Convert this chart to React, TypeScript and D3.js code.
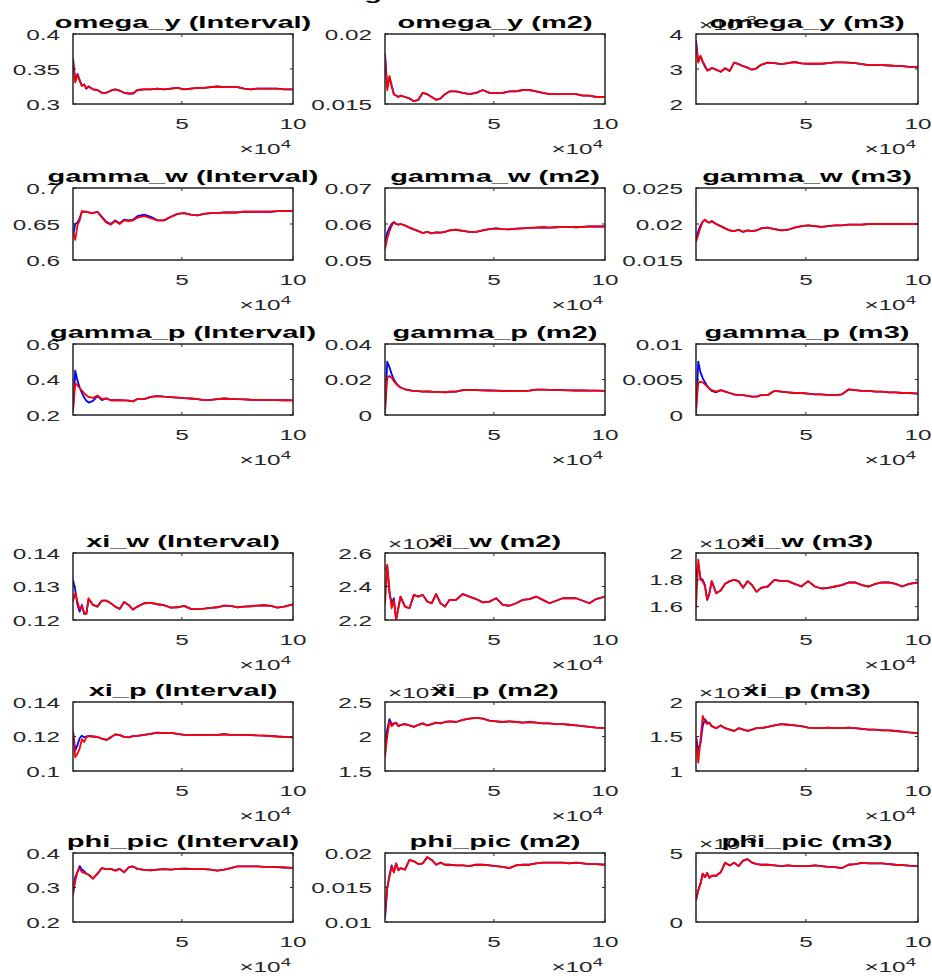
import React from 'react';
import * as d3 from 'd3';

// Iteration counts (thousands) at which each running estimate is sampled
const X_K = [1, 2, 3, 4, 5, 6, 7, 8, 10, 12, 14, 16, 18, 20, 22, 24, 26, 28, 30, 33, 36, 39, 42, 45, 48, 51, 54, 57, 60, 63, 66, 69, 72, 75, 78, 81, 84, 87, 90, 93, 96, 100];

// ---- omega_y ----
const omegaYIntervalRed = [0.362, 0.331, 0.342, 0.333, 0.326, 0.328, 0.322, 0.325, 0.321, 0.320, 0.316, 0.316, 0.319, 0.321, 0.319, 0.316, 0.315, 0.315, 0.320, 0.321, 0.321, 0.322, 0.321, 0.322, 0.323, 0.321, 0.322, 0.323, 0.323, 0.324, 0.325, 0.324, 0.324, 0.324, 0.322, 0.321, 0.322, 0.322, 0.322, 0.322, 0.321, 0.321];
const omegaYIntervalBlue = [0.366, 0.333, 0.343, 0.334];
const omegaYM2Red = [0.0183, 0.0160, 0.0170, 0.0163, 0.0157, 0.0156, 0.0155, 0.0156, 0.0155, 0.0154, 0.0152, 0.0153, 0.0158, 0.0157, 0.0155, 0.0153, 0.0154, 0.0157, 0.0159, 0.0159, 0.0158, 0.0157, 0.0158, 0.0160, 0.0158, 0.0158, 0.0158, 0.0159, 0.0159, 0.0160, 0.0160, 0.0159, 0.0158, 0.0157, 0.0157, 0.0157, 0.0157, 0.0157, 0.0156, 0.0156, 0.0155, 0.0155];
const omegaYM2Blue = [0.0186, 0.0162, 0.0169];
const omegaYM3Red = [3.75, 3.18, 3.38, 3.22, 3.10, 2.95, 2.98, 3.03, 2.98, 2.92, 3.02, 2.94, 3.18, 3.14, 3.08, 3.04, 2.98, 3.02, 3.12, 3.18, 3.17, 3.14, 3.17, 3.20, 3.16, 3.15, 3.15, 3.15, 3.17, 3.19, 3.19, 3.18, 3.17, 3.14, 3.11, 3.11, 3.11, 3.10, 3.09, 3.08, 3.06, 3.05];
const omegaYM3Blue = [3.82, 3.22, 3.36, 3.20, 3.06, 2.98];

// ---- gamma_w ----
const gammaWIntervalRed = [0.640, 0.628, 0.648, 0.655, 0.668, 0.667, 0.667, 0.666, 0.665, 0.667, 0.659, 0.652, 0.649, 0.654, 0.650, 0.655, 0.654, 0.655, 0.659, 0.661, 0.658, 0.655, 0.655, 0.660, 0.664, 0.665, 0.663, 0.662, 0.664, 0.665, 0.665, 0.666, 0.666, 0.666, 0.667, 0.667, 0.667, 0.667, 0.667, 0.668, 0.668, 0.668];
const gammaWIntervalBlue = [0.633, 0.650, 0.652, 0.658, 0.667, 0.667, 0.667, 0.666, 0.665, 0.667, 0.660, 0.653, 0.650, 0.655, 0.651, 0.656, 0.655, 0.656, 0.661, 0.663, 0.660];
const gammaWM2Red = [0.053, 0.056, 0.058, 0.0595, 0.0605, 0.0600, 0.0598, 0.0600, 0.0596, 0.0590, 0.0585, 0.0580, 0.0575, 0.0578, 0.0574, 0.0577, 0.0576, 0.0578, 0.0582, 0.0584, 0.0581, 0.0578, 0.0578, 0.0582, 0.0586, 0.0588, 0.0586, 0.0585, 0.0587, 0.0588, 0.0589, 0.0590, 0.0591, 0.0590, 0.0591, 0.0592, 0.0592, 0.0591, 0.0592, 0.0593, 0.0593, 0.0593];
const gammaWM2Blue = [0.055, 0.0575, 0.0590, 0.0600];
const gammaWM3Red = [0.0175, 0.0185, 0.0195, 0.0203, 0.0206, 0.0203, 0.0202, 0.0204, 0.0200, 0.0197, 0.0194, 0.0191, 0.0190, 0.0192, 0.0189, 0.0191, 0.0190, 0.0191, 0.0194, 0.0195, 0.0193, 0.0191, 0.0192, 0.0195, 0.0197, 0.0198, 0.0197, 0.0196, 0.0197, 0.0198, 0.0198, 0.0199, 0.0199, 0.0199, 0.0200, 0.0200, 0.0200, 0.0200, 0.0200, 0.0200, 0.0200, 0.0200];
const gammaWM3Blue = [0.0180, 0.0190, 0.0198];

// ---- gamma_p ----
const gammaPIntervalRed = [0.228, 0.378, 0.368, 0.352, 0.338, 0.323, 0.311, 0.302, 0.296, 0.310, 0.290, 0.294, 0.283, 0.284, 0.283, 0.282, 0.281, 0.277, 0.290, 0.290, 0.302, 0.306, 0.303, 0.301, 0.298, 0.295, 0.293, 0.290, 0.284, 0.285, 0.289, 0.293, 0.291, 0.289, 0.288, 0.286, 0.285, 0.285, 0.284, 0.284, 0.283, 0.282];
const gammaPIntervalBlue = [0.220, 0.450, 0.395, 0.355, 0.325, 0.300, 0.280, 0.270, 0.280, 0.306, 0.284, 0.294];
const gammaPM2Red = [0.002, 0.021, 0.022, 0.021, 0.019, 0.0175, 0.0165, 0.0155, 0.0145, 0.0140, 0.0135, 0.0135, 0.0132, 0.0133, 0.0131, 0.0130, 0.0130, 0.0128, 0.0131, 0.0132, 0.0140, 0.0141, 0.0140, 0.0139, 0.0138, 0.0137, 0.0136, 0.0135, 0.0134, 0.0135, 0.0137, 0.0143, 0.0143, 0.0142, 0.0141, 0.0140, 0.0139, 0.0138, 0.0138, 0.0137, 0.0137, 0.0136];
const gammaPM2Blue = [0.001, 0.030, 0.027, 0.023, 0.020, 0.018, 0.0165, 0.0155];
const gammaPM3Red = [0.0006, 0.0045, 0.0047, 0.0046, 0.0043, 0.0040, 0.0037, 0.0035, 0.0033, 0.0035, 0.0033, 0.0031, 0.0029, 0.0028, 0.0028, 0.0027, 0.0026, 0.0026, 0.0028, 0.0028, 0.0034, 0.0033, 0.0032, 0.0031, 0.0031, 0.0030, 0.0029, 0.0029, 0.0028, 0.0028, 0.0029, 0.0036, 0.0035, 0.0034, 0.0034, 0.0033, 0.0033, 0.0032, 0.0032, 0.0031, 0.0031, 0.0030];
const gammaPM3Blue = [0.0002, 0.0075, 0.0060, 0.0052, 0.0046, 0.0041, 0.0037, 0.0034, 0.0032];

// ---- xi_w ----
const xiWIntervalRed = [0.1255, 0.1280, 0.1255, 0.1232, 0.1242, 0.1222, 0.1218, 0.1265, 0.1245, 0.1240, 0.1258, 0.1258, 0.1250, 0.1240, 0.1233, 0.1254, 0.1245, 0.1231, 0.1240, 0.1250, 0.1251, 0.1247, 0.1244, 0.1237, 0.1238, 0.1242, 0.1233, 0.1233, 0.1234, 0.1236, 0.1238, 0.1243, 0.1242, 0.1238, 0.1240, 0.1241, 0.1243, 0.1244, 0.1242, 0.1237, 0.1240, 0.1247];
const xiWIntervalBlue = [0.1320, 0.1290, 0.1245, 0.1225, 0.1245, 0.1218, 0.1218, 0.1262];
const xiWM2Red = [2.29, 2.53, 2.38, 2.27, 2.32, 2.20, 2.27, 2.34, 2.28, 2.27, 2.35, 2.34, 2.35, 2.31, 2.30, 2.355, 2.30, 2.28, 2.32, 2.32, 2.355, 2.34, 2.325, 2.305, 2.31, 2.33, 2.29, 2.285, 2.30, 2.32, 2.325, 2.34, 2.32, 2.30, 2.315, 2.33, 2.33, 2.33, 2.315, 2.30, 2.325, 2.34];
const xiWM2Blue = [2.50, 2.52, 2.36, 2.30, 2.33];
const xiWM3Red = [1.59, 1.95, 1.80, 1.79, 1.75, 1.65, 1.70, 1.79, 1.70, 1.72, 1.77, 1.79, 1.80, 1.79, 1.74, 1.79, 1.76, 1.71, 1.74, 1.75, 1.80, 1.79, 1.79, 1.77, 1.75, 1.79, 1.75, 1.735, 1.74, 1.75, 1.76, 1.78, 1.78, 1.76, 1.75, 1.77, 1.78, 1.78, 1.77, 1.75, 1.77, 1.78];
const xiWM3Blue = [1.82, 1.92, 1.81, 1.80, 1.76];

// ---- xi_p ----
const xiPIntervalRed = [0.1230, 0.1080, 0.1100, 0.1130, 0.1185, 0.1168, 0.1195, 0.1203, 0.1200, 0.1197, 0.1188, 0.1180, 0.1195, 0.1212, 0.1208, 0.1198, 0.1195, 0.1202, 0.1204, 0.1210, 0.1215, 0.1222, 0.1220, 0.1221, 0.1215, 0.1210, 0.1209, 0.1209, 0.1209, 0.1210, 0.1210, 0.1213, 0.1210, 0.1210, 0.1209, 0.1208, 0.1206, 0.1205, 0.1203, 0.1200, 0.1198, 0.1195];
const xiPIntervalBlue = [0.1235, 0.1120, 0.1150, 0.1190, 0.1205, 0.1195, 0.1200];
const xiPM2Red = [1.70, 2.00, 2.22, 2.15, 2.18, 2.20, 2.15, 2.17, 2.18, 2.16, 2.14, 2.17, 2.19, 2.16, 2.18, 2.20, 2.19, 2.21, 2.22, 2.21, 2.24, 2.26, 2.27, 2.26, 2.23, 2.22, 2.21, 2.22, 2.21, 2.20, 2.21, 2.20, 2.19, 2.19, 2.18, 2.18, 2.17, 2.16, 2.15, 2.14, 2.13, 2.12];
const xiPM2Blue = [1.90, 2.10, 2.25, 2.18, 2.19];
const xiPM3Red = [1.50, 1.12, 1.45, 1.80, 1.72, 1.68, 1.70, 1.65, 1.62, 1.66, 1.62, 1.60, 1.58, 1.62, 1.60, 1.58, 1.60, 1.62, 1.62, 1.64, 1.66, 1.68, 1.67, 1.66, 1.65, 1.63, 1.62, 1.62, 1.63, 1.62, 1.62, 1.63, 1.62, 1.61, 1.60, 1.60, 1.59, 1.59, 1.58, 1.57, 1.56, 1.55];
const xiPM3Blue = [1.50, 1.30, 1.40, 1.65, 1.75, 1.70];

// ---- phi_pic ----
const phiPicIntervalRed = [0.282, 0.318, 0.345, 0.357, 0.345, 0.342, 0.340, 0.337, 0.326, 0.340, 0.356, 0.353, 0.354, 0.349, 0.354, 0.344, 0.358, 0.361, 0.354, 0.351, 0.350, 0.352, 0.353, 0.352, 0.354, 0.355, 0.354, 0.354, 0.353, 0.352, 0.349, 0.352, 0.356, 0.361, 0.361, 0.361, 0.361, 0.360, 0.360, 0.359, 0.358, 0.357];
const phiPicIntervalBlue = [0.278, 0.330, 0.345, 0.362, 0.352, 0.348];
const phiPicM2Red = [0.0110, 0.0150, 0.0165, 0.0180, 0.0172, 0.0185, 0.0175, 0.0178, 0.0176, 0.0190, 0.0188, 0.0184, 0.0185, 0.0194, 0.0190, 0.0183, 0.0186, 0.0183, 0.0183, 0.0182, 0.0182, 0.0181, 0.0183, 0.0183, 0.0182, 0.0181, 0.0180, 0.0178, 0.0182, 0.0183, 0.0183, 0.0185, 0.0186, 0.0186, 0.0186, 0.0186, 0.0185, 0.0186, 0.0185, 0.0184, 0.0184, 0.0183];
const phiPicM2Blue = [0.0105, 0.0148, 0.0168, 0.0182];
const phiPicM3Red = [1.55, 2.30, 2.75, 3.50, 3.25, 3.55, 3.20, 3.35, 3.35, 3.60, 4.30, 4.10, 4.30, 4.05, 4.45, 4.55, 4.30, 4.20, 4.15, 4.15, 4.10, 4.05, 4.10, 4.05, 4.05, 4.05, 4.10, 4.05, 4.00, 3.98, 3.90, 4.15, 4.20, 4.28, 4.25, 4.25, 4.25, 4.20, 4.15, 4.12, 4.08, 4.05];
const phiPicM3Blue = [1.60, 2.30, 2.80, 3.50];

// Axis settings: titles, y limits, tick values and tick labels
const TITLES = [
  ['omega_y (Interval)', 'omega_y (m2)', 'omega_y (m3)'],
  ['gamma_w (Interval)', 'gamma_w (m2)', 'gamma_w (m3)'],
  ['gamma_p (Interval)', 'gamma_p (m2)', 'gamma_p (m3)'],
  ['xi_w (Interval)', 'xi_w (m2)', 'xi_w (m3)'],
  ['xi_p (Interval)', 'xi_p (m2)', 'xi_p (m3)'],
  ['phi_pic (Interval)', 'phi_pic (m2)', 'phi_pic (m3)'],
];
const Y_LIMITS = [
  [[0.3, 0.4], [0.015, 0.02], [2, 4]],
  [[0.6, 0.7], [0.05, 0.07], [0.015, 0.025]],
  [[0.2, 0.6], [0, 0.04], [0, 0.01]],
  [[0.12, 0.14], [2.2, 2.6], [1.5, 2.0]],
  [[0.1, 0.14], [1.5, 2.5], [1, 2]],
  [[0.2, 0.4], [0.01, 0.02], [0, 5]],
];
const Y_TICKS = [
  [[0.3, 0.35, 0.4], [0.015, 0.02], [2, 3, 4]],
  [[0.6, 0.65, 0.7], [0.05, 0.06, 0.07], [0.015, 0.02, 0.025]],
  [[0.2, 0.4, 0.6], [0, 0.02, 0.04], [0, 0.005, 0.01]],
  [[0.12, 0.13, 0.14], [2.2, 2.4, 2.6], [1.6, 1.8, 2]],
  [[0.1, 0.12, 0.14], [1.5, 2, 2.5], [1, 1.5, 2]],
  [[0.2, 0.3, 0.4], [0.01, 0.015, 0.02], [0, 5]],
];
const Y_TICK_LABELS = [
  [['0.3', '0.35', '0.4'], ['0.015', '0.02'], ['2', '3', '4']],
  [['0.6', '0.65', '0.7'], ['0.05', '0.06', '0.07'], ['0.015', '0.02', '0.025']],
  [['0.2', '0.4', '0.6'], ['0', '0.02', '0.04'], ['0', '0.005', '0.01']],
  [['0.12', '0.13', '0.14'], ['2.2', '2.4', '2.6'], ['1.6', '1.8', '2']],
  [['0.1', '0.12', '0.14'], ['1.5', '2', '2.5'], ['1', '1.5', '2']],
  [['0.2', '0.3', '0.4'], ['0.01', '0.015', '0.02'], ['0', '5']],
];
const Y_EXPONENTS = [
  [null, null, '-3'],
  [null, null, null],
  [null, null, null],
  [null, '-3', '-4'],
  [null, '-3', '-4'],
  [null, null, '-3'],
];
const RED = [
  [omegaYIntervalRed, omegaYM2Red, omegaYM3Red],
  [gammaWIntervalRed, gammaWM2Red, gammaWM3Red],
  [gammaPIntervalRed, gammaPM2Red, gammaPM3Red],
  [xiWIntervalRed, xiWM2Red, xiWM3Red],
  [xiPIntervalRed, xiPM2Red, xiPM3Red],
  [phiPicIntervalRed, phiPicM2Red, phiPicM3Red],
];
// Blue chain: early samples listed; afterwards it coincides with the red chain
const BLUE_HEAD = [
  [omegaYIntervalBlue, omegaYM2Blue, omegaYM3Blue],
  [gammaWIntervalBlue, gammaWM2Blue, gammaWM3Blue],
  [gammaPIntervalBlue, gammaPM2Blue, gammaPM3Blue],
  [xiWIntervalBlue, xiWM2Blue, xiWM3Blue],
  [xiPIntervalBlue, xiPM2Blue, xiPM3Blue],
  [phiPicIntervalBlue, phiPicM2Blue, phiPicM3Blue],
];
const X_TICKS = [50000, 100000];
const X_TICK_LABELS = ['5', '10'];

// Layout
const W = 932;
const H = 979;
const COL_LEFT = [73, 385, 696];
const COL_WIDTH = [220, 220, 222];
const ROW_TOP = [34, 188, 344, 553, 702, 853];
const ROW_BOTTOM = [104, 260, 415, 620, 771, 922];
const FONT = "'Liberation Sans', Arial, Helvetica, sans-serif";
const AXIS_COLOR = '#262626';
const STRETCH_TICK = 1.62;
const STRETCH_TITLE = 1.76;

function Label(props: {
  x: number; y: number; sx: number; size: number; anchor?: string; weight?: string; fill?: string; children: React.ReactNode;
}) {
  const { x, y, sx, size, anchor = 'start', weight = 'normal', fill = AXIS_COLOR, children } = props;
  return (
    <text
      transform={`translate(${x},${y}) scale(${sx},1)`}
      textAnchor={anchor}
      fontSize={size}
      fontWeight={weight}
      fontFamily={FONT}
      fill={fill}
    >
      {children}
    </text>
  );
}

function Panel({ r, c }: { r: number; c: number }) {
  const x0 = COL_LEFT[c];
  const x1 = x0 + COL_WIDTH[c];
  const y0 = ROW_TOP[r];
  const y1 = ROW_BOTTOM[r];
  const xScale = d3.scaleLinear().domain([1000, 100000]).range([x0, x1]);
  const yScale = d3.scaleLinear().domain(Y_LIMITS[r][c]).range([y1, y0]);
  const red = RED[r][c];
  const head = BLUE_HEAD[r][c];
  const blue = head.concat(red.slice(head.length));
  const line = d3
    .line<number>()
    .x((_, i) => xScale(X_K[i] * 1000))
    .y((d) => yScale(d));
  const clipId = `clip-${r}-${c}`;
  const tickLen = 3;
  const exp = Y_EXPONENTS[r][c];
  const cx = (x0 + x1) / 2;
  return (
    <g>
      <defs>
        <clipPath id={clipId}>
          <rect x={x0} y={y0} width={x1 - x0} height={y1 - y0} />
        </clipPath>
      </defs>
      <rect x={x0} y={y0} width={x1 - x0} height={y1 - y0} fill="#fff" />
      <g clipPath={`url(#${clipId})`} fill="none" strokeWidth={1.8} strokeLinejoin="round">
        <path d={line(blue) || ''} stroke="#0000ff" />
        <path d={line(red) || ''} stroke="#ff0000" />
      </g>
      {/* ticks, pointing inward */}
      <g stroke={AXIS_COLOR} strokeWidth={1}>
        {X_TICKS.map((t) => (
          <g key={`xt${t}`}>
            <line x1={xScale(t)} x2={xScale(t)} y1={y1} y2={y1 - tickLen} />
            <line x1={xScale(t)} x2={xScale(t)} y1={y0} y2={y0 + tickLen} />
          </g>
        ))}
        {Y_TICKS[r][c].map((t) => (
          <g key={`yt${t}`}>
            <line x1={x0} x2={x0 + tickLen} y1={yScale(t)} y2={yScale(t)} />
            <line x1={x1} x2={x1 - tickLen} y1={yScale(t)} y2={yScale(t)} />
          </g>
        ))}
      </g>
      <rect x={x0} y={y0} width={x1 - x0} height={y1 - y0} fill="none" stroke={AXIS_COLOR} strokeWidth={1.5} />
      {/* tick labels */}
      {X_TICKS.map((t, i) => (
        <Label key={`xl${t}`} x={xScale(t)} y={y1 + 24.5} sx={STRETCH_TICK} size={15} anchor="middle">
          {X_TICK_LABELS[i]}
        </Label>
      ))}
      {Y_TICKS[r][c].map((t, i) => (
        <Label key={`yl${t}`} x={x0 - 13} y={yScale(t) + 5.5} sx={STRETCH_TICK} size={15} anchor="end">
          {Y_TICK_LABELS[r][c][i]}
        </Label>
      ))}
      {/* x-axis multiplier */}
      <Label x={x1 - 2} y={y1 + 50} sx={STRETCH_TICK} size={15} anchor="end">
        <tspan>×10</tspan>
        <tspan dy={-6} fontSize={11.5}>4</tspan>
      </Label>
      {/* y-axis multiplier */}
      {exp && (
        <Label x={x0 + 3} y={y0 - 4} sx={STRETCH_TICK} size={15}>
          <tspan>×10</tspan>
          <tspan dy={-6} fontSize={11.5}>{exp}</tspan>
        </Label>
      )}
      <Label x={cx} y={y0 - 6} sx={STRETCH_TITLE} size={16.5} anchor="middle" weight="bold" fill="#000">
        {TITLES[r][c]}
      </Label>
    </g>
  );
}

export default function App() {
  return (
    <svg
      width={W}
      height={H}
      viewBox={`0 0 ${W} ${H}`}
      style={{ position: 'absolute', left: 0, top: 0, background: '#fff' }}
    >
      <rect x={0} y={0} width={W} height={H} fill="#fff" />
      {/* figure heading, mostly above the top edge of the canvas */}
      <Label x={373} y={-0.5} sx={STRETCH_TITLE} size={16.5} anchor="middle" weight="bold" fill="#000">
        g
      </Label>
      {TITLES.map((row, r) => row.map((_, c) => <Panel key={`${r}-${c}`} r={r} c={c} />))}
    </svg>
  );
}
